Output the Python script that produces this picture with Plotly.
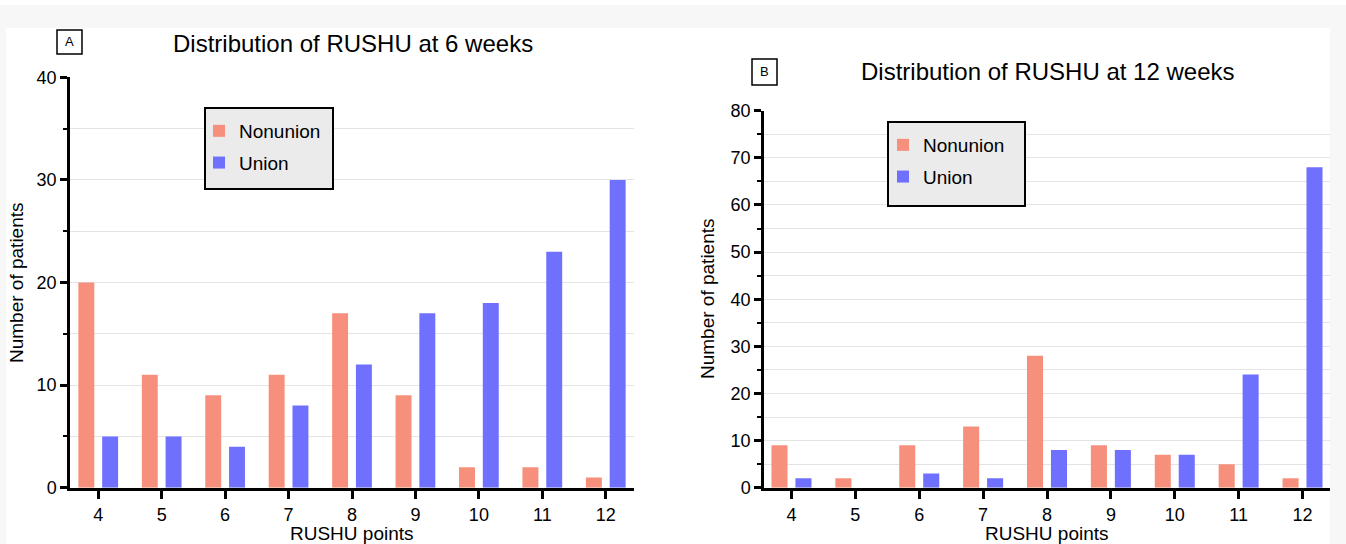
import plotly.graph_objects as go

W, H = 1346, 544

# ---- data ----
points = [4, 5, 6, 7, 8, 9, 10, 11, 12]
nonunion_6wk = [20, 11, 9, 11, 17, 9, 2, 2, 1]
union_6wk = [5, 5, 4, 8, 12, 17, 18, 23, 30]
nonunion_12wk = [9, 2, 9, 13, 28, 9, 7, 5, 2]
union_12wk = [2, 0, 3, 2, 8, 8, 7, 24, 68]

NON_COLOR = "#f6907c"
UNI_COLOR = "#7070ff"
FONT = "Liberation Sans, Arial, Helvetica, sans-serif"


def px(x):
    return x / W


def py(y):
    return 1 - y / H


fig = go.Figure()

fig.add_trace(go.Bar(x=points, y=nonunion_6wk, name="Nonunion", marker_color=NON_COLOR,
                     marker_line_width=0, xaxis="x", yaxis="y", legend="legend",
                     legendgroup="a1"))
fig.add_trace(go.Bar(x=points, y=union_6wk, name="Union", marker_color=UNI_COLOR,
                     marker_line_width=0, xaxis="x", yaxis="y", legend="legend",
                     legendgroup="a2"))
fig.add_trace(go.Bar(x=points, y=nonunion_12wk, name="Nonunion", marker_color=NON_COLOR,
                     marker_line_width=0, xaxis="x2", yaxis="y2", legend="legend2",
                     legendgroup="b1"))
fig.add_trace(go.Bar(x=points, y=union_12wk, name="Union", marker_color=UNI_COLOR,
                     marker_line_width=0, xaxis="x2", yaxis="y2", legend="legend2",
                     legendgroup="b2"))

axis_common = dict(
    showline=True, linecolor="black", linewidth=2.5,
    ticks="outside", tickwidth=2.5, tickcolor="black",
    tickfont=dict(family=FONT, size=18, color="black"),
    zeroline=False, automargin=False,
)

xcommon = dict(axis_common, tickvals=points, ticklen=9, showgrid=False, fixedrange=True)
ycommon = dict(axis_common, ticklen=7, dtick=10, showgrid=True, gridcolor="#e4e4e4",
               gridwidth=1, fixedrange=True,
               minor=dict(dtick=5, ticklen=4, tickwidth=2, tickcolor="black",
                          ticks="outside", showgrid=True, gridcolor="#e4e4e4"))

shapes = []
# light grey frame of the page
frame = "#f8f7f8"
shapes.append(dict(type="rect", xref="paper", yref="paper", x0=px(0), x1=px(W),
                   y0=py(5), y1=py(28), fillcolor=frame, line_width=0, layer="below"))
shapes.append(dict(type="rect", xref="paper", yref="paper", x0=px(0), x1=px(6),
                   y0=py(5), y1=py(H), fillcolor=frame, line_width=0, layer="below"))
shapes.append(dict(type="rect", xref="paper", yref="paper", x0=px(1330), x1=px(W),
                   y0=py(5), y1=py(H), fillcolor=frame, line_width=0, layer="below"))
# panel letter boxes
shapes.append(dict(type="rect", xref="paper", yref="paper", x0=px(57), x1=px(82),
                   y0=py(30), y1=py(54), line=dict(color="black", width=1.5),
                   fillcolor="white"))
shapes.append(dict(type="rect", xref="paper", yref="paper", x0=px(752), x1=px(777),
                   y0=py(59), y1=py(85), line=dict(color="black", width=1.5),
                   fillcolor="white"))
# legend boxes
shapes.append(dict(type="rect", xref="paper", yref="paper", x0=px(205), x1=px(333),
                   y0=py(108), y1=py(189), line=dict(color="black", width=2),
                   fillcolor="#ebebeb", layer="above"))
shapes.append(dict(type="rect", xref="paper", yref="paper", x0=px(888), x1=px(1025),
                   y0=py(122), y1=py(206), line=dict(color="black", width=2),
                   fillcolor="#ebebeb", layer="above"))

annotations = [
    dict(text="Distribution of RUSHU at 6 weeks", x=px(353), y=py(43), xref="paper",
         yref="paper", showarrow=False, font=dict(family=FONT, size=24, color="black"),
         xanchor="center", yanchor="middle"),
    dict(text="Distribution of RUSHU at 12 weeks", x=px(1047), y=py(72), xref="paper",
         yref="paper", showarrow=False, font=dict(family=FONT, size=24, color="black"),
         xanchor="center", yanchor="middle"),
    dict(text="A", x=px(69.5), y=py(42), xref="paper", yref="paper", showarrow=False,
         font=dict(family=FONT, size=13, color="black"), xanchor="center", yanchor="middle"),
    dict(text="B", x=px(764.5), y=py(72), xref="paper", yref="paper", showarrow=False,
         font=dict(family=FONT, size=13, color="black"), xanchor="center", yanchor="middle"),
    dict(text="Number of patients", x=px(16), y=py(283), xref="paper", yref="paper",
         showarrow=False, textangle=-90, font=dict(family=FONT, size=19, color="black"),
         xanchor="center", yanchor="middle"),
    dict(text="Number of patients", x=px(707), y=py(299), xref="paper", yref="paper",
         showarrow=False, textangle=-90, font=dict(family=FONT, size=19, color="black"),
         xanchor="center", yanchor="middle"),
    dict(text="RUSHU points", x=px(352), y=py(533), xref="paper", yref="paper",
         showarrow=False, font=dict(family=FONT, size=19, color="black"),
         xanchor="center", yanchor="middle"),
    dict(text="RUSHU points", x=px(1047), y=py(533), xref="paper", yref="paper",
         showarrow=False, font=dict(family=FONT, size=19, color="black"),
         xanchor="center", yanchor="middle"),
]

legend_common = dict(bgcolor="rgba(0,0,0,0)", borderwidth=0,
                     font=dict(family=FONT, size=19, color="black"),
                     xanchor="left", yanchor="top", tracegroupgap=4,
                     itemclick=False, itemdoubleclick=False)

fig.update_layout(
    width=W, height=H, autosize=False,
    margin=dict(l=0, r=0, t=0, b=0, pad=0, autoexpand=False),
    paper_bgcolor="white", plot_bgcolor="white",
    barmode="group", bargap=0.25, bargroupgap=0.33,
    showlegend=True, hovermode=False,
    xaxis=dict(xcommon, domain=[px(70), px(634)], range=[3.555, 12.445], anchor="y"),
    yaxis=dict(ycommon, domain=[py(487.7), py(77.3)], range=[0, 40], anchor="x"),
    xaxis2=dict(xcommon, domain=[px(764), px(1330)], range=[3.57, 12.43], anchor="y2"),
    yaxis2=dict(ycommon, domain=[py(487.7), py(110.7)], range=[0, 80], anchor="x2"),
    legend=dict(legend_common, x=px(199), y=py(112)),
    legend2=dict(legend_common, x=px(883), y=py(126)),
    shapes=shapes,
    annotations=annotations,
)

fig.write_html(
    "out.html",
    config={"displayModeBar": False, "staticPlot": False},
    post_script="document.documentElement.style.margin='0px';"
                "document.body.style.margin='0px';"
                "document.body.style.padding='0px';"
                "document.body.style.overflow='hidden';",
)
